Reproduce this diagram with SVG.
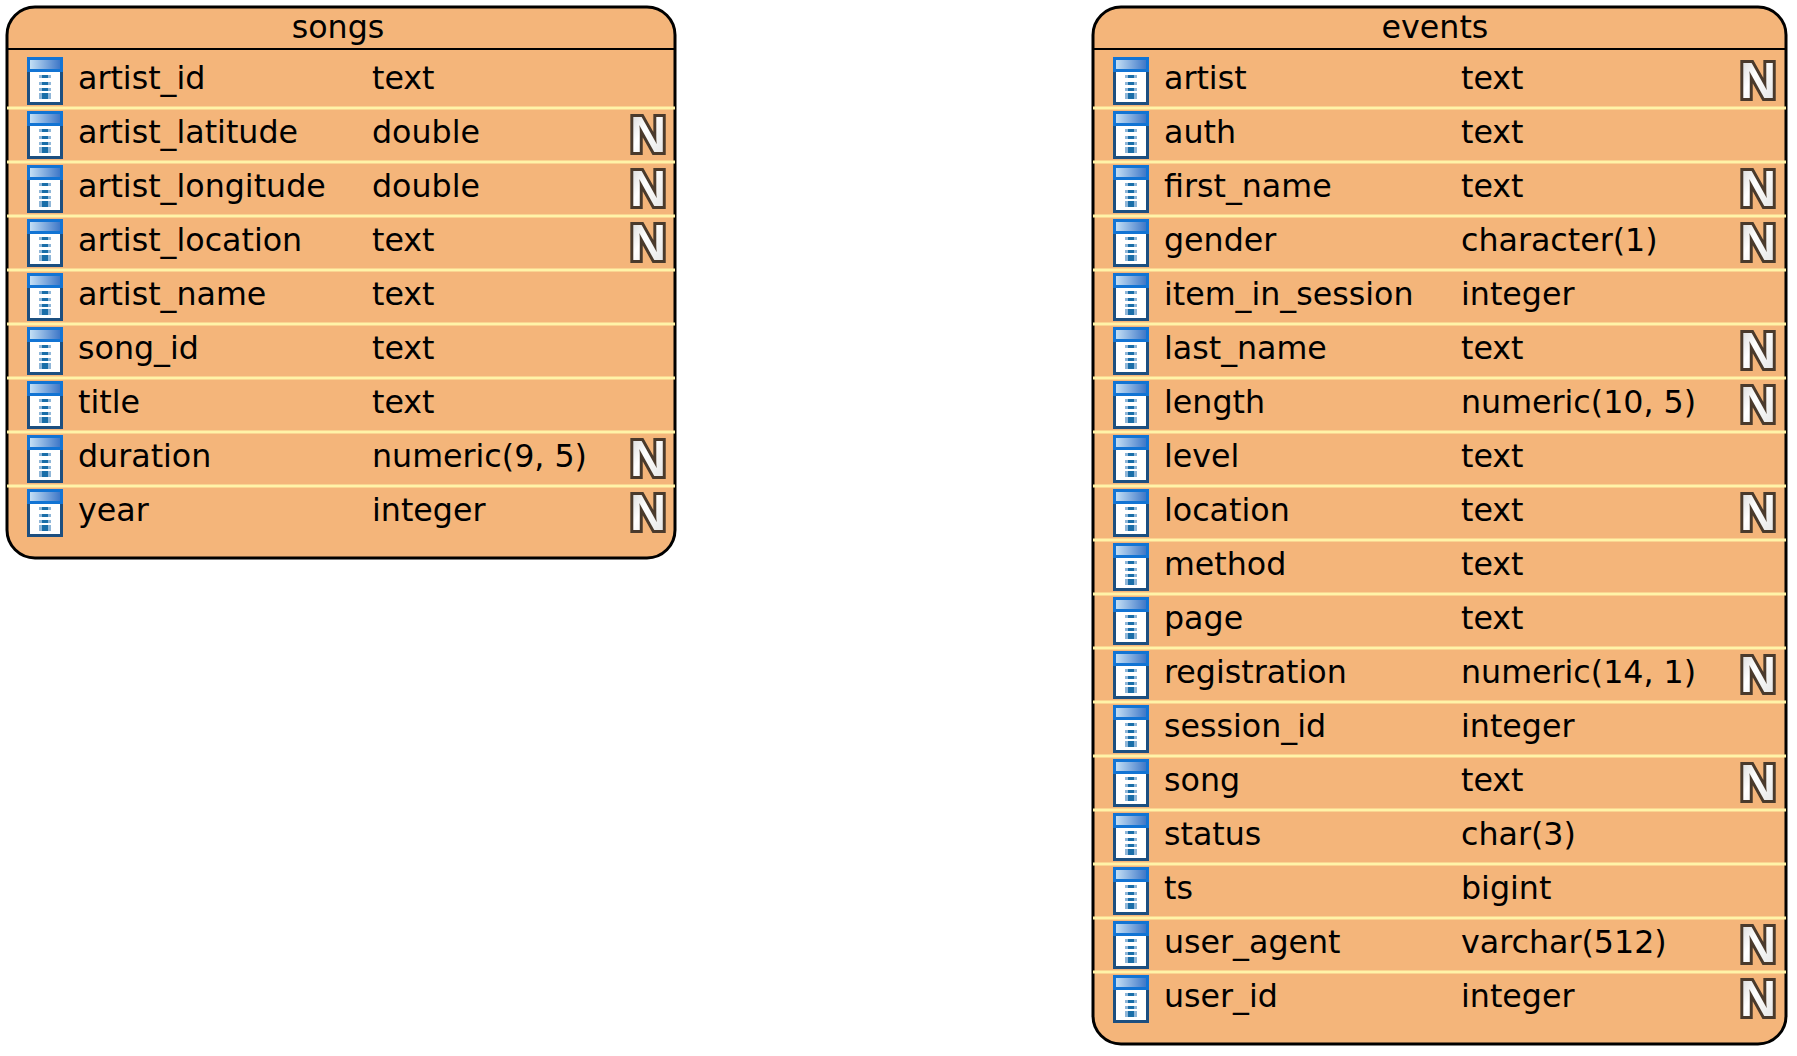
<svg xmlns="http://www.w3.org/2000/svg" width="1797" height="1056" viewBox="0 0 1797 1056">
<style>
text{font-family:"DejaVu Sans","Open Sans",sans-serif;font-size:31.7px;fill:#000;transform:translateY(-1px)}
.h{text-anchor:middle}
.box{fill:#f4b57a;stroke:#000;stroke-width:3}
.hl{stroke:#000;stroke-width:2}
.sep{stroke:#fff3a8;stroke-width:3}
text.n{font-family:"Liberation Sans",sans-serif;font-weight:700;font-size:50px;fill:url(#ng);stroke:#4a3a2c;stroke-width:6;paint-order:stroke;text-anchor:middle;transform:none}
</style>
<defs>
<linearGradient id="ng" x1="0" y1="0" x2="1" y2="1"><stop offset="0" stop-color="#cfcfcf"/><stop offset=".4" stop-color="#fff"/><stop offset="1" stop-color="#e0e0e0"/></linearGradient>
<linearGradient id="g"><stop offset="0" stop-color="#c4dff5"/><stop offset="1" stop-color="#3f78c8"/></linearGradient>
<g id="ic">
<rect x="0" y="0" width="36" height="48" fill="#1c4f80"/>
<rect x="3" y="15" width="30" height="30" fill="#fff"/>
<rect x="0" y="0" width="36" height="15" fill="#1274d4"/>
<rect x="3" y="3" width="30" height="9" fill="url(#g)"/>
<g fill="#8fb6d8"><rect x="12" y="18" width="12" height="3"/><rect x="12" y="25" width="12" height="3"/><rect x="12" y="31" width="12" height="3"/><rect x="12" y="36" width="12" height="6"/></g>
<g fill="#1a6ea8"><rect x="15" y="18" width="6" height="3"/><rect x="15" y="25" width="6" height="3"/><rect x="15" y="31" width="6" height="3"/><rect x="15" y="36" width="6" height="6"/></g>
</g>
</defs>
<g id="songs">
<rect class="box" x="7" y="7" width="668" height="551" rx="28"/>
<line class="hl" x1="7" x2="675" y1="49" y2="49"/>
<text class="h" x="338" y="39">songs</text>
<g class="sep"><line x1="7" x2="675" y1="108" y2="108"/><line x1="7" x2="675" y1="162" y2="162"/><line x1="7" x2="675" y1="216" y2="216"/><line x1="7" x2="675" y1="270" y2="270"/><line x1="7" x2="675" y1="324" y2="324"/><line x1="7" x2="675" y1="378" y2="378"/><line x1="7" x2="675" y1="432" y2="432"/><line x1="7" x2="675" y1="486" y2="486"/></g>
<use href="#ic" x="27" y="57"/><use href="#ic" x="27" y="111"/><use href="#ic" x="27" y="165"/><use href="#ic" x="27" y="219"/><use href="#ic" x="27" y="273"/><use href="#ic" x="27" y="327"/><use href="#ic" x="27" y="381"/><use href="#ic" x="27" y="435"/><use href="#ic" x="27" y="489"/>
<text x="78" y="90">artist_id</text><text x="372" y="90">text</text>
<text x="78" y="144">artist_latitude</text><text x="372" y="144">double</text><text class="n" x="648" y="152">N</text>
<text x="78" y="198">artist_longitude</text><text x="372" y="198">double</text><text class="n" x="648" y="206">N</text>
<text x="78" y="252">artist_location</text><text x="372" y="252">text</text><text class="n" x="648" y="260">N</text>
<text x="78" y="306">artist_name</text><text x="372" y="306">text</text>
<text x="78" y="360">song_id</text><text x="372" y="360">text</text>
<text x="78" y="414">title</text><text x="372" y="414">text</text>
<text x="78" y="468">duration</text><text x="372" y="468">numeric(9, 5)</text><text class="n" x="648" y="476">N</text>
<text x="78" y="522">year</text><text x="372" y="522">integer</text><text class="n" x="648" y="530">N</text>
</g>
<g id="events">
<rect class="box" x="1093" y="7" width="693" height="1037" rx="28"/>
<line class="hl" x1="1093" x2="1786" y1="49" y2="49"/>
<text class="h" x="1435" y="39">events</text>
<g class="sep"><line x1="1093" x2="1786" y1="108" y2="108"/><line x1="1093" x2="1786" y1="162" y2="162"/><line x1="1093" x2="1786" y1="216" y2="216"/><line x1="1093" x2="1786" y1="270" y2="270"/><line x1="1093" x2="1786" y1="324" y2="324"/><line x1="1093" x2="1786" y1="378" y2="378"/><line x1="1093" x2="1786" y1="432" y2="432"/><line x1="1093" x2="1786" y1="486" y2="486"/><line x1="1093" x2="1786" y1="540" y2="540"/><line x1="1093" x2="1786" y1="594" y2="594"/><line x1="1093" x2="1786" y1="648" y2="648"/><line x1="1093" x2="1786" y1="702" y2="702"/><line x1="1093" x2="1786" y1="756" y2="756"/><line x1="1093" x2="1786" y1="810" y2="810"/><line x1="1093" x2="1786" y1="864" y2="864"/><line x1="1093" x2="1786" y1="918" y2="918"/><line x1="1093" x2="1786" y1="972" y2="972"/></g>
<use href="#ic" x="1113" y="57"/><use href="#ic" x="1113" y="111"/><use href="#ic" x="1113" y="165"/><use href="#ic" x="1113" y="219"/><use href="#ic" x="1113" y="273"/><use href="#ic" x="1113" y="327"/><use href="#ic" x="1113" y="381"/><use href="#ic" x="1113" y="435"/><use href="#ic" x="1113" y="489"/><use href="#ic" x="1113" y="543"/><use href="#ic" x="1113" y="597"/><use href="#ic" x="1113" y="651"/><use href="#ic" x="1113" y="705"/><use href="#ic" x="1113" y="759"/><use href="#ic" x="1113" y="813"/><use href="#ic" x="1113" y="867"/><use href="#ic" x="1113" y="921"/><use href="#ic" x="1113" y="975"/>
<text x="1164" y="90">artist</text><text x="1461" y="90">text</text><text class="n" x="1758" y="98">N</text>
<text x="1164" y="144">auth</text><text x="1461" y="144">text</text>
<text x="1164" y="198">first_name</text><text x="1461" y="198">text</text><text class="n" x="1758" y="206">N</text>
<text x="1164" y="252">gender</text><text x="1461" y="252">character(1)</text><text class="n" x="1758" y="260">N</text>
<text x="1164" y="306">item_in_session</text><text x="1461" y="306">integer</text>
<text x="1164" y="360">last_name</text><text x="1461" y="360">text</text><text class="n" x="1758" y="368">N</text>
<text x="1164" y="414">length</text><text x="1461" y="414">numeric(10, 5)</text><text class="n" x="1758" y="422">N</text>
<text x="1164" y="468">level</text><text x="1461" y="468">text</text>
<text x="1164" y="522">location</text><text x="1461" y="522">text</text><text class="n" x="1758" y="530">N</text>
<text x="1164" y="576">method</text><text x="1461" y="576">text</text>
<text x="1164" y="630">page</text><text x="1461" y="630">text</text>
<text x="1164" y="684">registration</text><text x="1461" y="684">numeric(14, 1)</text><text class="n" x="1758" y="692">N</text>
<text x="1164" y="738">session_id</text><text x="1461" y="738">integer</text>
<text x="1164" y="792">song</text><text x="1461" y="792">text</text><text class="n" x="1758" y="800">N</text>
<text x="1164" y="846">status</text><text x="1461" y="846">char(3)</text>
<text x="1164" y="900">ts</text><text x="1461" y="900">bigint</text>
<text x="1164" y="954">user_agent</text><text x="1461" y="954">varchar(512)</text><text class="n" x="1758" y="962">N</text>
<text x="1164" y="1008">user_id</text><text x="1461" y="1008">integer</text><text class="n" x="1758" y="1016">N</text>
</g>
</svg>
